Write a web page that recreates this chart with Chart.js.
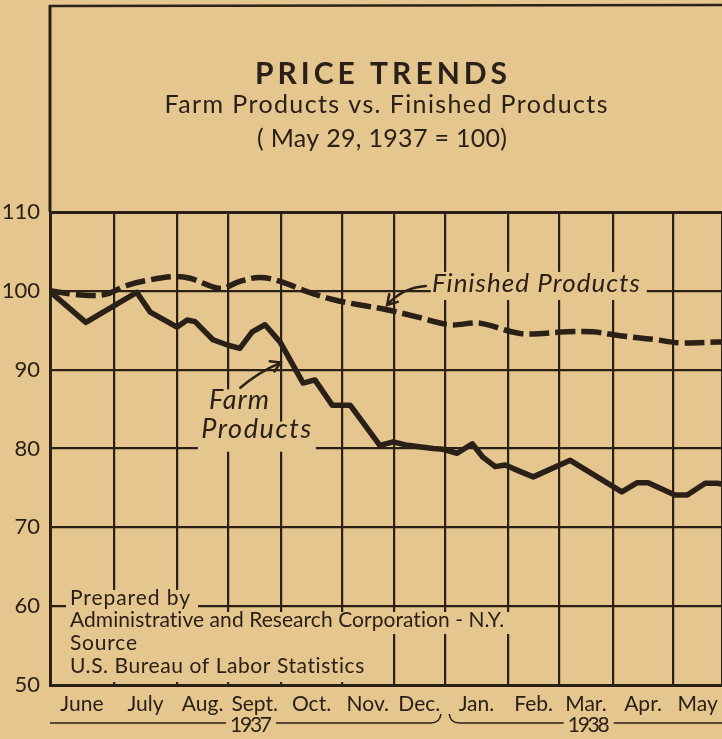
<!DOCTYPE html>
<html>
<head>
<meta charset="utf-8">
<title>Price Trends</title>
<script src="https://cdn.jsdelivr.net/npm/chart.js@4.4.0/dist/chart.umd.min.js"></script>
<style>
  html, body { margin: 0; padding: 0; background: #e4c68e; }
  #wrap { width: 722px; height: 739px; }
</style>
</head>
<body>
<div id="wrap"><canvas id="priceChart" width="722" height="739"></canvas></div>
<script>
// months June 1937 .. May 1938, x runs in months from May 29, 1937
const monthNames = ["June", "July", "Aug.", "Sept.", "Oct.", "Nov.", "Dec.", "Jan.", "Feb.", "Mar.", "Apr.", "May"];
// month boundaries as drawn on the original grid
const monthEdges = [0, 1.14, 2.27, 3.18, 4.13, 5.21, 6.14, 7.05, 8.18, 9.09, 10.05, 11.13, 12];
const yearLabels = ["1937", "1938"];
const yearFrom = [0, 7.13];
const yearTo = [6.98, 12];
const yearCenter = [3.59, 9.62];

// Farm Products index (May 29, 1937 = 100)
const farmMonths = [0, 0.64, 1.55, 1.79, 2.27, 2.45, 2.59, 2.91, 3.18, 3.39, 3.61, 3.84, 4.11, 4.52, 4.73, 5.04, 5.36, 5.89, 6.13, 6.38, 6.84, 7.02, 7.27, 7.54, 7.73, 7.95, 8.13, 8.39, 8.63, 9.29, 10.21, 10.48, 10.68, 11.16, 11.38, 11.7, 11.91, 12];
const farmIndex = [99.9, 96.0, 99.8, 97.3, 95.4, 96.3, 96.1, 93.8, 93.1, 92.7, 94.8, 95.7, 93.5, 88.3, 88.7, 85.5, 85.5, 80.4, 80.85, 80.4, 80.0, 79.9, 79.4, 80.6, 78.9, 77.7, 77.9, 77.1, 76.4, 78.5, 74.5, 75.65, 75.65, 74.1, 74.1, 75.6, 75.6, 75.5];

// Finished Products index
const finishedMonths = [0, 0.39, 0.77, 1.02, 1.38, 1.79, 2.2, 2.5, 3.04, 3.39, 3.75, 4.11, 4.59, 5.05, 5.54, 6.02, 6.55, 7.14, 7.68, 8.39, 9.23, 9.7, 10.18, 10.77, 11.25, 11.91, 12];
const finishedIndex = [100, 99.6, 99.4, 99.6, 100.7, 101.4, 101.8, 101.6, 100.3, 101.2, 101.7, 101.2, 99.9, 98.9, 98.2, 97.6, 96.7, 95.7, 95.9, 94.6, 94.8, 94.8, 94.3, 93.85, 93.4, 93.5, 93.5];

const noteLines = ["Prepared by", "Administrative and Research Corporation - N.Y.", "Source", "U.S. Bureau of Labor Statistics"];

const PAPER = "#e4c68e";
const INK = "#2b2017";
const FONT = "Lato, 'Noto Sans', sans-serif";

// draw text stretched/squeezed to a given width with letter spacing
function fitText(ctx, text, x, y, width, font, align) {
  ctx.save();
  ctx.font = font;
  ctx.letterSpacing = "0px";
  const w = ctx.measureText(text).width;
  const sp = (width - w) / Math.max(text.length - 1, 1);
  ctx.letterSpacing = sp + "px";
  ctx.textAlign = "left";
  let left = x;
  if (align === "center") left = x - width / 2;
  ctx.fillText(text, left, y);
  ctx.restore();
}

function arrow(ctx, x1, y1, cx, cy, x2, y2) {
  ctx.beginPath();
  ctx.moveTo(x1, y1);
  ctx.quadraticCurveTo(cx, cy, x2, y2);
  ctx.stroke();
  const a = Math.atan2(y2 - cy, x2 - cx);
  ctx.beginPath();
  ctx.moveTo(x2 + Math.cos(a + 2.6) * 11, y2 + Math.sin(a + 2.6) * 11);
  ctx.lineTo(x2, y2);
  ctx.lineTo(x2 + Math.cos(a - 2.6) * 11, y2 + Math.sin(a - 2.6) * 11);
  ctx.stroke();
}

// paper, frame and title
const paperPlugin = {
  id: "paper",
  beforeDraw(chart) {
    const { ctx, chartArea } = chart;
    ctx.save();
    ctx.fillStyle = PAPER;
    ctx.fillRect(0, 0, chart.width, chart.height);
    ctx.strokeStyle = INK;
    ctx.lineWidth = 2.5;
    ctx.beginPath();
    ctx.moveTo(chartArea.left - 1, 6);
    ctx.lineTo(chart.width, 5);
    ctx.stroke();
    ctx.lineWidth = 3;
    ctx.beginPath();
    ctx.moveTo(chartArea.left, 5);
    ctx.lineTo(chartArea.left, chartArea.top);
    ctx.stroke();

    ctx.fillStyle = INK;
    ctx.textBaseline = "alphabetic";
    fitText(ctx, "PRICE TRENDS", 381, 84, 252, "bold 30px " + FONT, "center");
    fitText(ctx, "Farm Products vs. Finished Products", 386, 113, 443, "25px " + FONT, "center");
    fitText(ctx, "( May 29, 1937 = 100)", 382, 147, 250, "25px " + FONT, "center");
    ctx.restore();
  }
};

// labels, notes and the masks they put over the grid
const notesPlugin = {
  id: "notes",
  beforeDatasetsDraw(chart) {
    const { ctx, chartArea } = chart;
    const xs = chart.scales.x, ys = chart.scales.y;
    ctx.save();
    ctx.fillStyle = PAPER;
    // source note block
    ctx.fillRect(chartArea.left + 16, 590, 132, 22);
    ctx.fillRect(chartArea.left + 16, 612, 460, 22);
    ctx.fillRect(chartArea.left + 16, 634, 320, 48);
    // label masks
    ctx.fillRect(xs.getPixelForValue(6.8), ys.getPixelForValue(102.4), 216, 28);
    ctx.fillRect(xs.getPixelForValue(2.78), ys.getPixelForValue(87.5), 68, 36);
    ctx.fillRect(xs.getPixelForValue(2.64), ys.getPixelForValue(83.4), 118, 30);

    ctx.fillStyle = INK;
    ctx.textBaseline = "alphabetic";
    const left = chartArea.left + 20;
    fitText(ctx, noteLines[0], left, 605, 120, "21px " + FONT);
    fitText(ctx, noteLines[1], left, 627, 435, "21px " + FONT);
    fitText(ctx, noteLines[2], left, 650, 67, "21px " + FONT);
    fitText(ctx, noteLines[3], left, 673, 295, "21px " + FONT);

    fitText(ctx, "Finished Products", xs.getPixelForValue(6.82), ys.getPixelForValue(99.9), 208, "italic 26px " + FONT);
    fitText(ctx, "Farm", xs.getPixelForValue(2.84), ys.getPixelForValue(85.0), 60, "italic 27px " + FONT);
    fitText(ctx, "Products", xs.getPixelForValue(2.7), ys.getPixelForValue(81.3), 110, "italic 27px " + FONT);

    // year row under the months
    ctx.strokeStyle = INK;
    ctx.lineWidth = 1.6;
    const yy = 723;
    yearLabels.forEach((label, i) => {
      const cx = xs.getPixelForValue(yearCenter[i]);
      const a = xs.getPixelForValue(yearFrom[i]);
      const b = xs.getPixelForValue(yearTo[i]);
      fitText(ctx, label, cx, yy + 9, 42, "21px " + FONT, "center");
      ctx.beginPath();
      if (i === 0) {
        ctx.moveTo(a, yy);
      } else {
        ctx.moveTo(a, yy - 9);
        ctx.quadraticCurveTo(a + 1, yy, a + 10, yy);
      }
      ctx.lineTo(cx - 25, yy);
      ctx.moveTo(cx + 25, yy);
      if (i === 0) {
        ctx.lineTo(b - 10, yy);
        ctx.quadraticCurveTo(b - 1, yy, b, yy - 9);
      } else {
        ctx.lineTo(b, yy);
      }
      ctx.stroke();
    });
    ctx.restore();
  },
  afterDatasetsDraw(chart) {
    const { ctx } = chart;
    const xs = chart.scales.x, ys = chart.scales.y;
    const px = (m) => xs.getPixelForValue(m);
    const py = (v) => ys.getPixelForValue(v);
    ctx.save();
    ctx.strokeStyle = INK;
    ctx.lineWidth = 2.5;
    ctx.lineCap = "round";
    arrow(ctx, px(6.71), py(100.6), px(6.3), py(100.4), px(6.02), py(98.2));
    arrow(ctx, px(3.4), py(87.7), px(3.7), py(89.6), px(4.12), py(90.9));
    ctx.restore();
  }
};

const ctx = document.getElementById("priceChart").getContext("2d");
new Chart(ctx, {
  type: "line",
  data: {
    datasets: [
      {
        label: "Farm Products",
        data: farmMonths.map((m, i) => ({ x: m, y: farmIndex[i] })),
        borderColor: INK,
        borderWidth: 5.5,
        pointRadius: 0,
        tension: 0,
        borderJoinStyle: "round",
        borderCapStyle: "round",
      },
      {
        label: "Finished Products",
        data: finishedMonths.map((m, i) => ({ x: m, y: finishedIndex[i] })),
        borderColor: INK,
        borderWidth: 5.5,
        borderDash: [20, 6],
        pointRadius: 0,
        tension: 0.35,
      },
    ],
  },
  options: {
    responsive: false,
    animation: false,
    layout: { padding: { top: 212, right: 0, left: 0, bottom: 0 } },
    plugins: {
      legend: { display: false },
      tooltip: { enabled: false },
    },
    scales: {
      x: {
        type: "linear",
        position: "bottom",
        min: 0,
        max: 12,
        afterBuildTicks: (axis) => {
          axis.ticks = monthEdges.map((v) => ({ value: v }));
        },
        afterFit: (axis) => {
          axis.height = 0;
        },
        grid: { color: INK, lineWidth: 2.2, drawTicks: false },
        border: { display: false },
        ticks: { display: false },
      },
      xl: {
        type: "linear",
        position: "bottom",
        min: 0,
        max: 12,
        afterBuildTicks: (axis) => {
          axis.ticks = monthNames.map((n, i) => ({ value: (monthEdges[i] + monthEdges[i + 1]) / 2 }));
        },
        afterFit: (axis) => {
          axis.height = 54;
        },
        grid: { display: false },
        border: { display: false },
        ticks: {
          autoSkip: false,
          maxRotation: 0,
          minRotation: 0,
          padding: -1,
          color: INK,
          font: { family: FONT, size: 21 },
          callback: (value, index) => monthNames[index],
        },
      },
      y: {
        min: 50,
        max: 110,
        ticks: {
          stepSize: 10,
          padding: 10,
          color: INK,
          font: { family: FONT, size: 22 },
        },
        afterFit: (axis) => {
          axis.width = 50;
        },
        grid: {
          color: INK,
          drawTicks: false,
          lineWidth: (c) => (c.tick && (c.tick.value === 110 || c.tick.value === 50) ? 3 : 2.2),
        },
        border: { color: INK, width: 3 },
      },
    },
  },
  plugins: [paperPlugin, notesPlugin],
});
</script>
</body>
</html>
